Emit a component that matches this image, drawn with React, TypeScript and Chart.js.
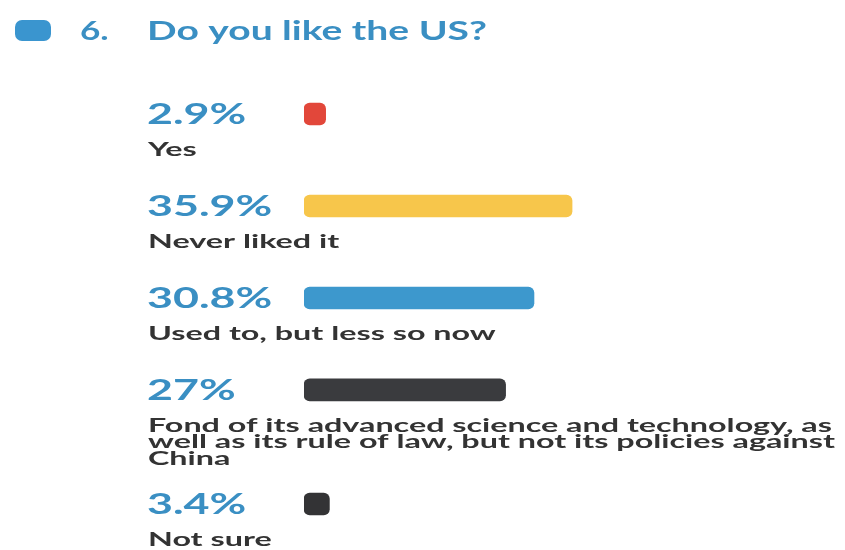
import React, { useEffect, useRef } from "react";
import { Chart, registerables } from "chart.js";

Chart.register(...registerables);

// ---- data ----
const questionNumber = "6.";
const questionTitle = "Do you like the US?";
const categoryLines: string[][] = [
  ["Yes"],
  ["Never liked it"],
  ["Used to, but less so now"],
  [
    "Fond of its advanced science and technology, as",
    "well as its rule of law, but not its policies against",
    "China",
  ],
  ["Not sure"],
];
const values = [2.9, 35.9, 30.8, 27, 3.4];
const valueLabels = ["2.9%", "35.9%", "30.8%", "27%", "3.4%"];
const barColors = ["#e2473a", "#f7c64b", "#3d98cd", "#3a3b3e", "#333335"];

// ---- style ----
const BLUE_TEXT = "#3a8fc3";
const DARK_TEXT = "#333333";
const FONT = "Lato, 'Open Sans', sans-serif";

// row positions on a linear index axis: one unit per row, extra for multi-line labels
const rowPositions: number[] = (() => {
  const out: number[] = [];
  let acc = 0;
  categoryLines.forEach((lines) => {
    out.push(acc);
    acc += 1 + 0.12 * (lines.length - 1);
  });
  return out;
})();

function stretchedText(
  ctx: CanvasRenderingContext2D,
  text: string,
  x: number,
  y: number,
  sx: number
) {
  ctx.save();
  ctx.translate(x, y);
  ctx.scale(sx, 1);
  ctx.fillText(text, 0, 0);
  ctx.restore();
}

const textPlugin = {
  id: "infoText",
  afterDatasetsDraw(chart: any) {
    const ctx: CanvasRenderingContext2D = chart.ctx;
    const meta = chart.getDatasetMeta(0);
    ctx.save();
    // title icon
    ctx.fillStyle = "#3a95cf";
    ctx.beginPath();
    (ctx as any).roundRect(15, 20, 36, 21, 7);
    ctx.fill();
    // title
    ctx.fillStyle = BLUE_TEXT;
    ctx.textBaseline = "alphabetic";
    ctx.textAlign = "left";
    ctx.font = `bold 26px ${FONT}`;
    stretchedText(ctx, questionNumber, 80, 40, 1.35);
    stretchedText(ctx, questionTitle, 147, 40, 1.5);

    meta.data.forEach((bar: any, i: number) => {
      const cy = bar.y;
      ctx.fillStyle = BLUE_TEXT;
      ctx.font = `bold 28px ${FONT}`;
      ctx.textBaseline = "middle";
      stretchedText(ctx, valueLabels[i], 147, cy + 1, 1.6);
      ctx.fillStyle = DARK_TEXT;
      ctx.font = `bold 19px ${FONT}`;
      ctx.textBaseline = "alphabetic";
      categoryLines[i].forEach((line, k) => {
        stretchedText(ctx, line, 148, cy + 42 + k * 16.5, 1.7);
      });
    });
    ctx.restore();
  },
};

export default function App() {
  const ref = useRef<HTMLCanvasElement | null>(null);
  useEffect(() => {
    if (!ref.current) return;
    const chart = new Chart(ref.current, {
      type: "bar",
      data: {
        datasets: [
          {
            data: values.map((v, i) => ({ x: v, y: rowPositions[i] })) as any,
            backgroundColor: barColors,
            barThickness: 22,
            borderRadius: 6,
            borderSkipped: false,
          },
        ],
      },
      options: {
        indexAxis: "y",
        animation: false,
        responsive: false,
        layout: { padding: { left: 304, right: 93, top: 68, bottom: 0 } },
        scales: {
          x: { type: "linear", min: 0, max: 60, display: false, offset: false },
          y: { type: "linear", min: -0.5, max: 4.74, reverse: true, display: false, offset: false },
        },
        plugins: { legend: { display: false }, tooltip: { enabled: false } },
      },
      plugins: [textPlugin],
    });
    return () => chart.destroy();
  }, []);
  return (
    <div style={{ position: "fixed", left: 0, top: 0, width: 845, height: 550, background: "#fff" }}>
      <canvas ref={ref} width={845} height={550} style={{ display: "block" }} />
    </div>
  );
}
